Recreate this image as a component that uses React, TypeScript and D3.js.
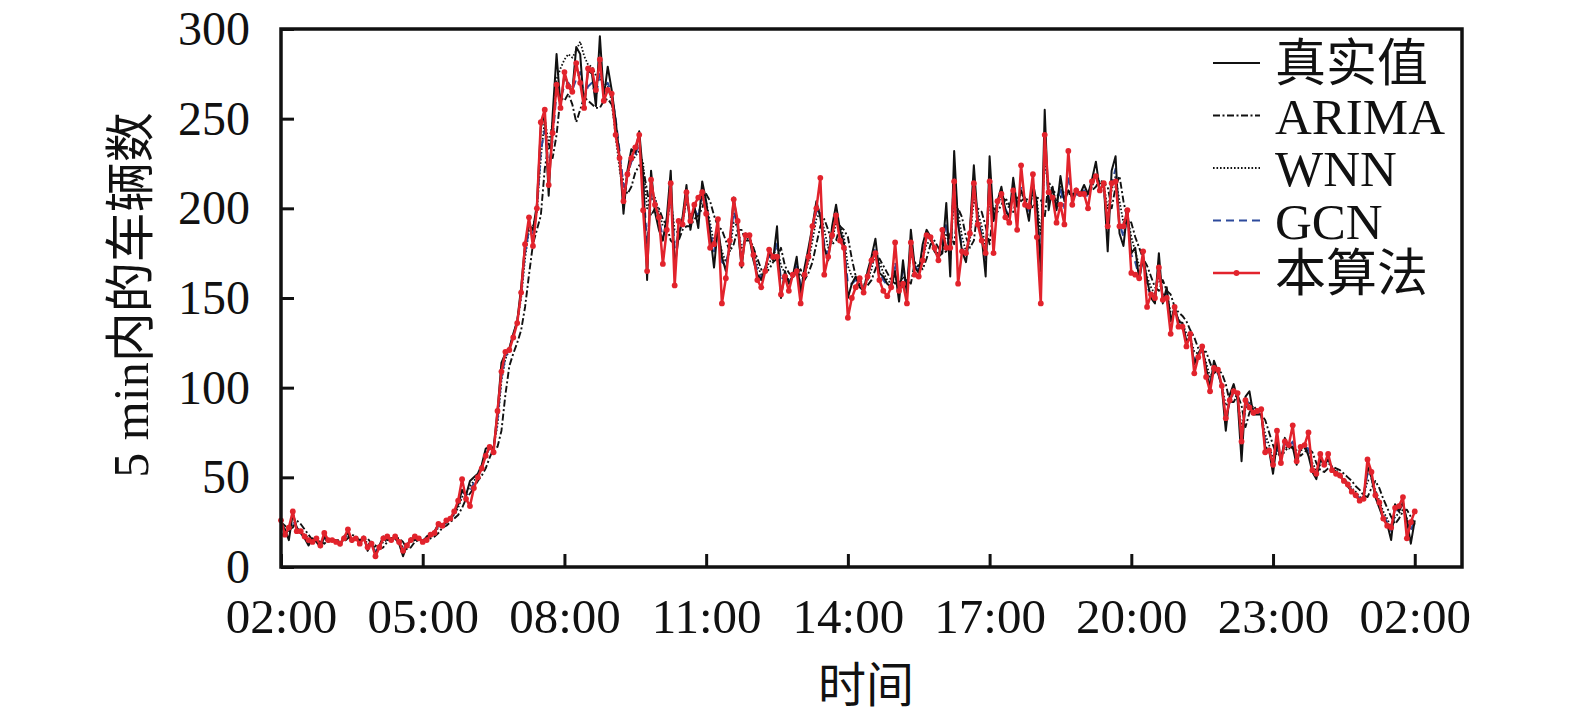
import { useEffect, useRef } from 'react';
import * as d3 from 'd3';

// 5-minute samples from 02:00 to 02:00 next day (289 points)
const xTickLabels = ['02:00', '05:00', '08:00', '11:00', '14:00', '17:00', '20:00', '23:00', '02:00'];
const yTicks = [0, 50, 100, 150, 200, 250, 300];
const seriesNames = ['真实值', 'ARIMA', 'WNN', 'GCN', '本算法'];

const actual = [
  24, 21, 15, 30, 22, 19, 16, 12, 16, 14, 11, 17,
  14, 15, 15, 12, 17, 19, 14, 16, 14, 17, 9, 14,
  7, 12, 17, 15, 16, 16, 13, 6, 12, 16, 15, 16,
  14, 17, 18, 20, 24, 23, 25, 27, 30, 35, 43, 40,
  48, 50, 52, 57, 66, 67, 66, 87, 114, 119, 122, 130,
  137, 156, 180, 191, 188, 202, 245, 253, 207, 252, 286, 257,
  275, 268, 265, 290, 286, 256, 277, 275, 257, 296, 262, 279,
  266, 249, 229, 197, 221, 233, 231, 243, 218, 160, 221, 198,
  188, 182, 195, 221, 167, 184, 195, 213, 188, 201, 189, 215,
  204, 186, 167, 190, 173, 165, 180, 206, 190, 167, 186, 184,
  171, 163, 160, 167, 175, 171, 190, 150, 165, 158, 162, 173,
  152, 167, 178, 190, 204, 195, 178, 171, 190, 202, 188, 180,
  150, 158, 162, 156, 154, 165, 173, 183, 164, 162, 158, 156,
  165, 148, 171, 152, 188, 167, 164, 180, 188, 184, 176, 173,
  175, 203, 162, 232, 191, 176, 170, 188, 224, 193, 184, 162,
  229, 193, 204, 212, 199, 195, 217, 201, 210, 204, 193, 214,
  203, 165, 255, 199, 212, 199, 218, 204, 210, 206, 211, 208,
  213, 208, 216, 226, 210, 214, 176, 221, 229, 186, 179, 199,
  175, 178, 160, 173, 160, 150, 147, 175, 147, 156, 137, 145,
  137, 136, 126, 128, 113, 119, 123, 111, 100, 115, 109, 100,
  76, 96, 102, 93, 59, 95, 98, 85, 85, 85, 67, 65,
  52, 70, 59, 72, 67, 67, 57, 67, 68, 62, 53, 49,
  60, 57, 60, 55, 53, 51, 48, 45, 42, 40, 37, 39,
  56, 50, 39, 33, 27, 24, 15, 35, 31, 36, 26, 13,
  26,
];

const arima = [
  25, 23, 21, 22, 26, 24, 21, 18, 15, 15, 14, 13,
  15, 15, 15, 15, 14, 16, 18, 17, 15, 15, 16, 13,
  12, 10, 11, 14, 16, 16, 16, 14, 10, 11, 14, 15,
  15, 15, 16, 17, 19, 22, 23, 25, 27, 29, 33, 38,
  41, 44, 48, 51, 55, 61, 66, 67, 76, 96, 112, 119,
  125, 132, 145, 163, 180, 188, 196, 222, 236, 228, 241, 262,
  260, 264, 258, 248, 255, 262, 260, 258, 256, 256, 260, 261,
  258, 245, 228, 214, 208, 212, 220, 224, 222, 210, 196, 200,
  200, 194, 190, 182, 180, 182, 188, 190, 190, 194, 196, 200,
  208, 204, 196, 190, 188, 182, 176, 180, 188, 188, 182, 182,
  178, 172, 166, 164, 166, 170, 172, 178, 168, 164, 162, 164,
  166, 160, 164, 170, 180, 190, 194, 188, 180, 182, 190, 188,
  184, 172, 162, 160, 158, 157, 160, 166, 172, 168, 164, 160,
  158, 160, 156, 160, 158, 170, 168, 166, 172, 180, 182, 178,
  175, 176, 186, 180, 200, 195, 184, 178, 182, 200, 198, 190,
  180, 200, 198, 202, 206, 202, 198, 206, 204, 206, 204, 200,
  206, 205, 195, 215, 210, 208, 206, 210, 208, 208, 207, 209,
  208, 210, 210, 212, 216, 214, 212, 200, 212, 218, 204, 194,
  192, 184, 178, 172, 168, 162, 156, 154, 160, 154, 152, 145,
  142, 140, 137, 132, 128, 122, 120, 120, 114, 108, 110, 108,
  102, 92, 92, 96, 90, 78, 86, 90, 87, 85, 82, 75,
  68, 62, 63, 64, 68, 66, 65, 62, 64, 66, 64, 58,
  54, 53, 55, 56, 55, 54, 52, 50, 48, 45, 43, 40,
  39, 44, 48, 44, 38, 33, 28, 24, 27, 31, 32, 28,
  24,
];

const wnn = [
  22, 21, 19, 23, 22, 20, 18, 16, 15, 15, 14, 15,
  15, 15, 15, 14, 15, 17, 16, 16, 15, 16, 13, 13,
  11, 11, 14, 15, 16, 16, 14, 11, 12, 14, 15, 15,
  15, 16, 17, 19, 22, 23, 25, 27, 29, 33, 39, 41,
  45, 48, 51, 55, 62, 66, 67, 79, 104, 116, 121, 128,
  136, 150, 172, 188, 190, 198, 228, 250, 236, 248, 272, 278,
  283, 286, 284, 288, 293, 285, 280, 279, 274, 272, 270, 268,
  260, 240, 222, 208, 218, 226, 229, 232, 225, 200, 205, 206,
  198, 190, 190, 205, 188, 186, 192, 204, 196, 198, 196, 206,
  204, 192, 180, 184, 176, 170, 176, 192, 190, 178, 182, 184,
  178, 168, 163, 164, 170, 172, 180, 168, 164, 160, 161, 168,
  162, 163, 170, 182, 194, 198, 188, 178, 182, 192, 190, 184,
  168, 162, 161, 158, 156, 160, 166, 175, 170, 164, 160, 158,
  162, 156, 162, 158, 174, 170, 166, 172, 180, 182, 178, 174,
  176, 186, 178, 205, 198, 184, 176, 182, 205, 198, 190, 178,
  205, 200, 202, 207, 204, 200, 210, 205, 208, 206, 200, 208,
  205, 185, 225, 212, 210, 204, 212, 206, 210, 207, 208, 208,
  210, 208, 212, 218, 214, 213, 200, 210, 218, 204, 192, 196,
  184, 176, 168, 170, 162, 156, 152, 162, 152, 152, 142, 142,
  138, 136, 130, 128, 120, 119, 120, 114, 106, 110, 108, 102,
  90, 92, 97, 94, 78, 88, 92, 88, 86, 85, 74, 68,
  60, 65, 62, 67, 66, 67, 62, 65, 66, 65, 58, 54,
  57, 57, 58, 56, 54, 52, 49, 47, 44, 42, 39, 39,
  48, 49, 43, 37, 31, 27, 22, 28, 30, 32, 27, 21,
  24,
];

const gcn = [
  23, 20, 19, 26, 22, 19, 17, 14, 15, 15, 13, 16,
  15, 15, 15, 13, 16, 18, 15, 16, 14, 16, 12, 13,
  9, 11, 15, 16, 16, 16, 14, 10, 12, 15, 15, 16,
  15, 16, 18, 19, 23, 23, 25, 27, 30, 34, 42, 40,
  42, 47, 51, 56, 63, 66, 66, 82, 106, 117, 122, 129,
  137, 152, 175, 188, 186, 198, 232, 244, 222, 238, 265, 262,
  268, 270, 266, 272, 276, 262, 268, 270, 262, 276, 268, 270,
  264, 250, 232, 212, 218, 226, 230, 236, 214, 180, 208, 204,
  194, 184, 190, 208, 178, 186, 192, 206, 194, 200, 195, 208,
  202, 188, 176, 188, 170, 168, 180, 198, 190, 174, 184, 184,
  174, 165, 161, 166, 173, 172, 182, 160, 163, 159, 162, 170,
  157, 164, 174, 187, 198, 200, 180, 174, 186, 196, 188, 180,
  158, 158, 160, 158, 155, 162, 170, 178, 165, 160, 157, 157,
  170, 155, 165, 155, 180, 168, 165, 175, 184, 183, 177, 173,
  180, 192, 172, 220, 192, 178, 173, 186, 215, 195, 185, 172,
  215, 192, 202, 208, 200, 195, 212, 200, 212, 205, 198, 212,
  200, 170, 238, 205, 208, 200, 212, 200, 218, 205, 208, 207,
  210, 206, 214, 220, 212, 213, 188, 214, 222, 192, 184, 196,
  174, 170, 162, 172, 156, 152, 150, 168, 150, 153, 138, 144,
  137, 135, 126, 128, 115, 118, 121, 110, 102, 112, 108, 101,
  84, 92, 98, 94, 70, 90, 93, 86, 86, 85, 70, 66,
  57, 68, 60, 69, 67, 70, 60, 66, 67, 66, 56, 52,
  60, 57, 60, 55, 53, 51, 48, 46, 43, 41, 38, 39,
  52, 50, 41, 35, 29, 25, 20, 31, 32, 35, 25, 20,
  27,
];

const ours = [
  26, 18, 22, 31, 20, 20, 17, 15, 14, 16, 12, 19,
  15, 15, 14, 13, 16, 21, 15, 16, 13, 16, 11, 13,
  6, 11, 16, 17, 15, 17, 14, 9, 12, 15, 17, 16,
  14, 15, 18, 19, 24, 23, 26, 27, 31, 37, 49, 38,
  34, 44, 50, 55, 62, 67, 64, 87, 109, 120, 121, 128,
  136, 153, 180, 195, 179, 200, 248, 255, 213, 242, 269, 256,
  276, 268, 265, 281, 270, 256, 278, 277, 266, 283, 260, 266,
  264, 241, 228, 204, 219, 228, 234, 241, 199, 165, 216, 202,
  195, 169, 188, 214, 157, 193, 191, 209, 193, 202, 206, 209,
  197, 178, 180, 194, 147, 161, 182, 205, 193, 169, 185, 185,
  174, 160, 156, 165, 177, 173, 173, 152, 162, 154, 163, 165,
  147, 163, 173, 190, 200, 217, 163, 173, 185, 196, 182, 178,
  139, 150, 156, 161, 153, 162, 171, 175, 160, 154, 151, 156,
  181, 154, 158, 147, 181, 163, 162, 171, 185, 184, 178, 171,
  188, 178, 178, 215, 158, 176, 175, 186, 214, 191, 182, 175,
  215, 175, 204, 208, 195, 192, 210, 188, 224, 202, 201, 219,
  184, 147, 241, 209, 206, 192, 202, 191, 232, 202, 210, 208,
  208, 200, 215, 218, 210, 214, 190, 214, 215, 190, 190, 199,
  164, 163, 161, 176, 145, 152, 150, 167, 149, 150, 130, 145,
  134, 134, 123, 130, 108, 117, 123, 106, 98, 111, 110, 101,
  83, 93, 98, 97, 70, 93, 89, 86, 87, 88, 64, 65,
  57, 76, 58, 70, 68, 79, 59, 67, 68, 75, 54, 52,
  63, 57, 63, 54, 52, 51, 48, 46, 42, 40, 37, 38,
  60, 53, 40, 36, 27, 23, 22, 33, 34, 39, 16, 25,
  31,
];

const latin = "'Liberation Serif', 'Times New Roman', serif";
const cjk = "'Liberation Serif', 'Noto Sans CJK SC', serif";

export default function App() {
  const svgRef = useRef<SVGSVGElement>(null);

  useEffect(() => {
    if (!svgRef.current) return;
    const svg = d3.select(svgRef.current);
    svg.selectAll('*').remove();

    const left = 281;
    const right = 1462;
    const top = 29;
    const bottom = 567;

    const x = d3.scaleLinear().domain([0, 25]).range([left, right]);
    const y = d3.scaleLinear().domain([0, 300]).range([bottom, top]);
    const hourOf = (i: number) => (i * 5) / 60;

    const line = d3
      .line<number>()
      .x((_, i) => x(hourOf(i)))
      .y((d) => y(d));

    const styles = [
      { data: arima, color: '#111', width: 1.9, dash: '7,2.5,2,2.5' },
      { data: wnn, color: '#111', width: 1.8, dash: '1.6,1.9' },
      { data: gcn, color: '#2d4a9c', width: 2, dash: '8,5' },
      { data: actual, color: '#111', width: 2, dash: null },
      { data: ours, color: '#e2232c', width: 2.5, dash: null },
    ];

    const plot = svg.append('g');
    styles.forEach((s) => {
      plot
        .append('path')
        .datum(s.data)
        .attr('d', line)
        .attr('fill', 'none')
        .attr('stroke', s.color)
        .attr('stroke-width', s.width)
        .attr('stroke-linejoin', 'round')
        .attr('stroke-dasharray', s.dash);
    });

    // markers on 本算法
    plot
      .append('g')
      .selectAll('circle')
      .data(ours)
      .join('circle')
      .attr('cx', (_, i) => x(hourOf(i)))
      .attr('cy', (d) => y(d))
      .attr('r', 2.9)
      .attr('fill', '#e2232c');

    // Axes
    const xAxis = svg
      .append('g')
      .attr('transform', `translate(0,${bottom})`)
      .call(
        d3
          .axisBottom(x)
          .tickValues(d3.range(0, 25, 3))
          .tickFormat((_, i) => xTickLabels[i])
          .tickSizeInner(-13)
          .tickSizeOuter(0)
          .tickPadding(31),
      );
    const yAxis = svg
      .append('g')
      .attr('transform', `translate(${left},0)`)
      .call(d3.axisLeft(y).tickValues(yTicks).tickSizeInner(-13).tickSizeOuter(0).tickPadding(31));

    [xAxis, yAxis].forEach((ax) => {
      ax.select('.domain').remove();
      ax.selectAll('.tick line').attr('stroke', '#111').attr('stroke-width', 3);
      ax.selectAll('.tick text')
        .attr('fill', '#111')
        .style('font-family', latin)
        .style('font-size', '48px');
    });
    xAxis.selectAll('.tick text').style('font-size', '49px');
    yAxis.selectAll('.tick text').attr('dy', '0.32em');

    svg
      .append('rect')
      .attr('x', left)
      .attr('y', top)
      .attr('width', right - left)
      .attr('height', bottom - top)
      .attr('fill', 'none')
      .attr('stroke', '#111')
      .attr('stroke-width', 3.5);

    // Axis titles
    svg
      .append('text')
      .attr('x', 866)
      .attr('y', 702)
      .attr('text-anchor', 'middle')
      .style('font-family', cjk)
      .style('font-size', '48px')
      .attr('fill', '#111')
      .text('时间');

    svg
      .append('text')
      .attr('transform', 'translate(148,295) rotate(-90)')
      .attr('text-anchor', 'middle')
      .style('font-family', cjk)
      .style('font-size', '50px')
      .attr('fill', '#111')
      .text('5 min内的车辆数');

    // Legend
    const legend = svg.append('g').attr('transform', 'translate(1213,63)');
    const rowGap = 52.5;
    const legendOrder = [3, 0, 1, 2, 4];
    seriesNames.forEach((name, r) => {
      const s = styles[legendOrder[r]];
      const row = legend.append('g').attr('transform', `translate(0,${r * rowGap})`);
      row
        .append('line')
        .attr('x1', 0)
        .attr('x2', 47)
        .attr('stroke', s.color)
        .attr('stroke-width', s.width)
        .attr('stroke-dasharray', s.dash);
      if (r === 4) {
        row.append('circle').attr('cx', 23.5).attr('cy', 0).attr('r', 2.9).attr('fill', s.color);
      }
      row
        .append('text')
        .attr('x', 62)
        .attr('y', 18)
        .style('font-family', cjk)
        .style('font-size', '51px')
        .attr('fill', '#111')
        .text(name);
    });
  }, []);

  return (
    <div style={{ position: 'absolute', left: 0, top: 0 }}>
      <svg ref={svgRef} width={1575} height={713} style={{ display: 'block', background: '#fff' }} />
    </div>
  );
}
